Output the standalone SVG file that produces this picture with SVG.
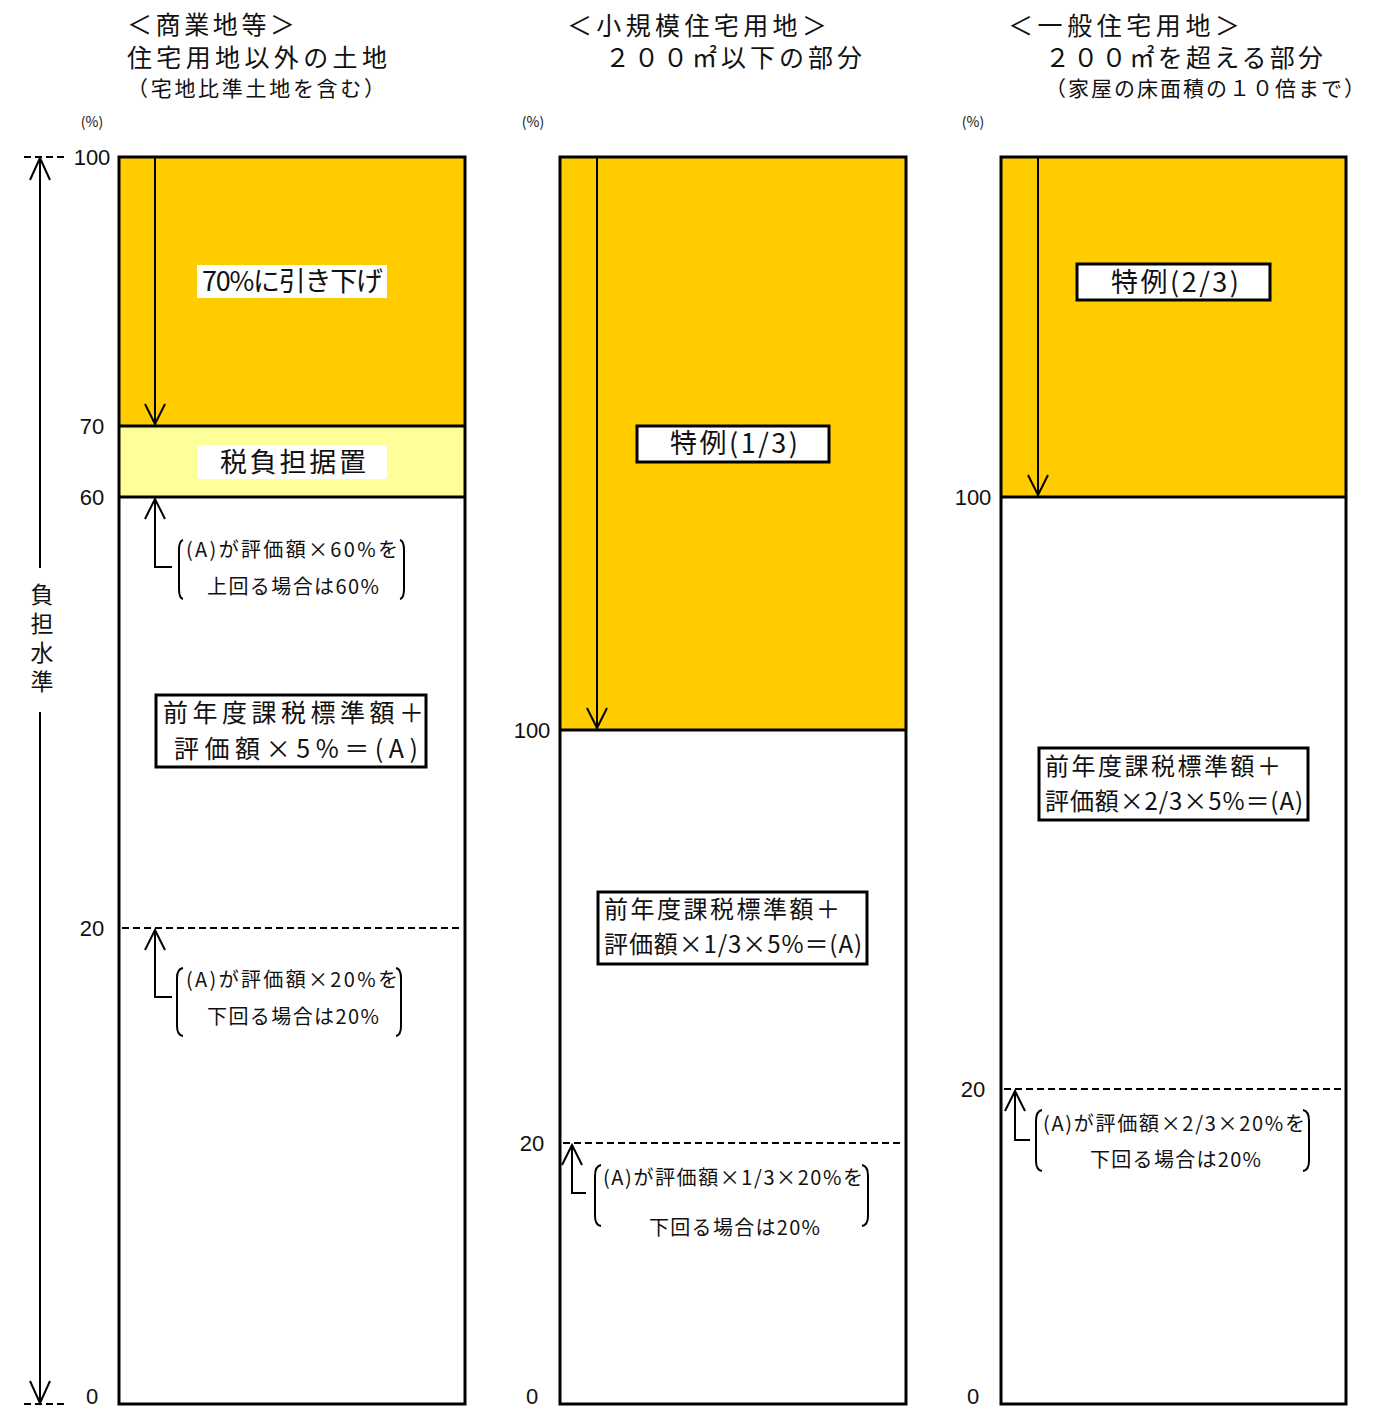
<svg xmlns="http://www.w3.org/2000/svg" width="1399" height="1409" viewBox="0 0 1399 1409">
<style>
.jp{font-family:"Noto Sans CJK JP","Noto Sans CJK SC",sans-serif;fill:#111}
.num{font-family:"Liberation Sans",Arial,sans-serif;fill:#111;font-size:22px;text-anchor:middle}
.pct{font-family:"Noto Sans CJK JP",sans-serif;font-size:14px;fill:#111;text-anchor:middle}
.h1{font-size:25px}
.h3{font-size:21px}
.box{font-size:27px}
.box2{font-size:24px}
.note{font-size:20px}
.frame{fill:none;stroke:#000;stroke-width:3}
.ln{fill:none;stroke:#000;stroke-width:2}
.dash{fill:none;stroke:#000;stroke-width:2;stroke-dasharray:7,4}
.lbl{fill:#fff;stroke:#000;stroke-width:3}
</style>

<g id="headers">
<text class="jp h1" x="127" y="34" textLength="168">＜商業地等＞</text>
<text class="jp h1" x="127" y="67" textLength="260">住宅用地以外の土地</text>
<text class="jp h3" x="127" y="96" textLength="258">（宅地比準土地を含む）</text>
<text class="jp h1" x="567" y="35" textLength="260">＜小規模住宅用地＞</text>
<text class="jp h1" x="605" y="67" textLength="257">２００㎡以下の部分</text>
<text class="jp h1" x="1008" y="35" textLength="232">＜一般住宅用地＞</text>
<text class="jp h1" x="1045" y="67" textLength="278">２００㎡を超える部分</text>
<text class="jp h3" x="1045" y="96" textLength="320">（家屋の床面積の１０倍まで）</text>
</g>

<g id="axis">
<path class="dash" d="M24 157H64M24 1404H64"/>
<path class="ln" d="M40 158V568M40 712V1403"/>
<path class="ln" d="M30 180L40 158L50 180M30 1381L40 1403L50 1381"/>
<text class="jp" font-size="23" x="42" y="583" style="writing-mode:vertical-rl;letter-spacing:6px">負担水準</text>
</g>

<g id="col1">
<rect x="119" y="157" width="346" height="269" fill="#FFCC00"/>
<rect x="119" y="426" width="346" height="71" fill="#FFFF99"/>
<rect x="119" y="497" width="346" height="907" fill="#fff"/>
<path class="frame" d="M119 426H465M119 497H465"/>
<path class="dash" d="M122 928H463"/>
<rect class="frame" x="119" y="157" width="346" height="1247"/>
<text class="pct" x="92" y="127">(%)</text>
<text class="num" x="92" y="165">100</text>
<text class="num" x="92" y="434">70</text>
<text class="num" x="92" y="505">60</text>
<text class="num" x="92" y="936">20</text>
<text class="num" x="92" y="1404">0</text>
<rect x="197" y="265" width="190" height="33" fill="#fff"/>
<text class="jp box" x="202" y="291" textLength="181">70%に引き下げ</text>
<rect x="197" y="445" width="190" height="34" fill="#fff"/>
<text class="jp box" x="220" y="472" textLength="146">税負担据置</text>
<rect class="lbl" x="156" y="695" width="270" height="72" stroke-width="2.5"/>
<text class="jp" font-size="25" x="163" y="722" textLength="261">前年度課税標準額＋</text>
<text class="jp" font-size="25" x="174" y="758" textLength="244">評価額×5%＝(A)</text>
<path class="ln" d="M183 540Q179 541 179 550V589Q179 598 183 599M400 540Q404 541 404 550V589Q404 598 400 599"/>
<text class="jp note" x="186" y="557" textLength="212">(A)が評価額×60%を</text>
<text class="jp note" x="207" y="594" textLength="172">上回る場合は60%</text>
<path class="ln" d="M183 968Q177 969 177 978V1026Q177 1035 183 1036M396 968Q401 969 401 978V1026Q401 1035 396 1036"/>
<text class="jp note" x="186" y="987" textLength="212">(A)が評価額×20%を</text>
<text class="jp note" x="207" y="1024" textLength="172">下回る場合は20%</text>
</g>

<g id="col2">
<rect x="560" y="157" width="346" height="573" fill="#FFCC00"/>
<rect x="560" y="730" width="346" height="674" fill="#fff"/>
<path class="frame" d="M560 730H906"/>
<path class="dash" d="M563 1143H904"/>
<rect class="frame" x="560" y="157" width="346" height="1247"/>
<text class="pct" x="533" y="127">(%)</text>
<text class="num" x="532" y="738">100</text>
<text class="num" x="532" y="1151">20</text>
<text class="num" x="532" y="1404">0</text>
<rect class="lbl" x="637" y="426" width="192" height="36"/>
<text class="jp box" x="670" y="453" textLength="128">特例(1/3)</text>
<rect class="lbl" x="598" y="892" width="269" height="72" stroke-width="2.5"/>
<text class="jp box2" x="604" y="918" textLength="236">前年度課税標準額＋</text>
<text class="jp box2" x="604" y="953" textLength="258">評価額×1/3×5%＝(A)</text>
<path class="ln" d="M601 1165Q595 1166 595 1176V1216Q595 1225 601 1226M862 1165Q868 1166 868 1176V1216Q868 1225 862 1226"/>
<text class="jp note" x="603" y="1185" textLength="260">(A)が評価額×1/3×20%を</text>
<text class="jp note" x="649" y="1235" textLength="171">下回る場合は20%</text>
</g>

<g id="col3">
<rect x="1001" y="157" width="345" height="340" fill="#FFCC00"/>
<rect x="1001" y="497" width="345" height="907" fill="#fff"/>
<path class="frame" d="M1001 497H1346"/>
<path class="dash" d="M1004 1089H1344"/>
<rect class="frame" x="1001" y="157" width="345" height="1247"/>
<text class="pct" x="973" y="127">(%)</text>
<text class="num" x="973" y="505">100</text>
<text class="num" x="973" y="1097">20</text>
<text class="num" x="973" y="1404">0</text>
<rect class="lbl" x="1077" y="264" width="193" height="36"/>
<text class="jp box" x="1111" y="292" textLength="128">特例(2/3)</text>
<rect class="lbl" x="1039" y="748" width="269" height="72" stroke-width="2.5"/>
<text class="jp box2" x="1045" y="775" textLength="236">前年度課税標準額＋</text>
<text class="jp box2" x="1045" y="810" textLength="258">評価額×2/3×5%＝(A)</text>
<path class="ln" d="M1042 1110Q1036 1111 1036 1121V1161Q1036 1170 1042 1171M1303 1110Q1309 1111 1309 1121V1161Q1309 1170 1303 1171"/>
<text class="jp note" x="1043" y="1131" textLength="262">(A)が評価額×2/3×20%を</text>
<text class="jp note" x="1090" y="1167" textLength="171">下回る場合は20%</text>
</g>

<g id="connectors">
<path class="ln" d="M155 158V424M145 404L155 424L165 404"/>
<path class="ln" d="M155 499V567H172M145 519L155 499L165 519"/>
<path class="ln" d="M155 930V997H172M145 950L155 930L165 950"/>
<path class="ln" d="M597 158V728M587 708L597 728L607 708"/>
<path class="ln" d="M572 1145V1193H586M562 1165L572 1145L582 1165"/>
<path class="ln" d="M1038 158V495M1028 475L1038 495L1048 475"/>
<path class="ln" d="M1015 1091V1140H1030M1005 1111L1015 1091L1025 1111"/>
</g>
</svg>
